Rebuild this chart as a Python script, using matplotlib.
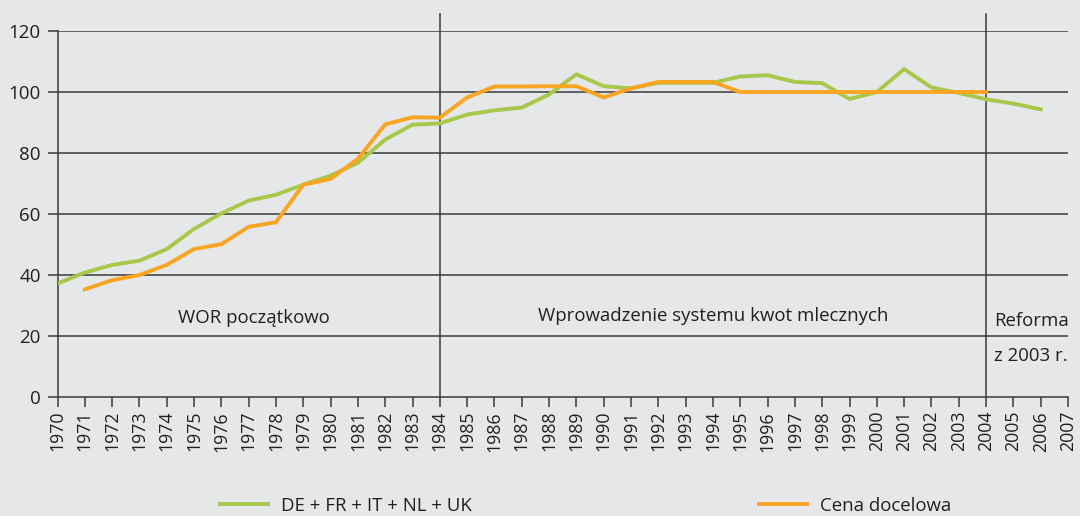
import numpy as np
import matplotlib
matplotlib.use("Agg")
import matplotlib.pyplot as plt

plt.rcParams["font.family"] = ["Open Sans", "DejaVu Sans"]

years = np.arange(1970, 2007 + 1)
green_years = np.arange(1970, 2007)
green = [37.2, 40.8, 43.3, 44.7, 48.5, 55.1, 60.2, 64.4, 66.3, 69.6,
         72.6, 76.8, 84.4, 89.3, 89.7, 92.6, 94.0, 94.9, 99.2, 105.8,
         101.9, 101.2, 103.0, 103.0, 103.0, 105.1, 105.5, 103.3, 102.9, 97.7,
         100.0, 107.5, 101.5, 99.7, 97.6, 96.2, 94.3]
orange_years = np.arange(1971, 2005)
orange = [35.3, 38.3, 40.0, 43.3, 48.5, 50.1, 55.8, 57.3, 69.6,
          71.5, 78.1, 89.4, 91.7, 91.6, 98.2, 101.8, 101.8, 101.9, 101.9,
          98.2, 101.2, 103.3, 103.3, 103.3, 100.0, 100.0, 100.0, 100.0, 100.0,
          100.0, 100.0, 100.0, 100.0, 100.0]
labels = ["DE + FR + IT + NL + UK", "Cena docelowa"]
periods = [(1994.0, 26.5, "Wprowadzenie systemu kwot mlecznych"),
           (1977.2, 26.0, "WOR początkowo")]
breaks = [1984, 2004]

bg = "#e6e7e8"
dark = "#3a3a3a"
txt = "#231f20"
c_green = "#a8c84c"
c_orange = "#f8a523"

fig = plt.figure(figsize=(10.8, 5.16), dpi=100, facecolor=bg)
ax = fig.add_axes([57.5 / 1080, 1 - 397 / 516, (1068 - 57.5) / 1080, (397 - 31) / 516])
ax.set_facecolor(bg)
ax.set_xlim(1970, 2007)
ax.set_ylim(0, 120)

for v in range(20, 121, 20):
    ax.axhline(v, color=dark, lw=1.1, zorder=1)
for b in breaks:
    ax.axvline(b, ymin=0, ymax=1.047, color=dark, lw=1.1, clip_on=False, zorder=1)

ax.plot(green_years, green, color=c_green, lw=2.8, solid_joinstyle="miter", zorder=3, label=labels[0])
ax.plot(orange_years, orange, color=c_orange, lw=2.8, solid_joinstyle="miter", zorder=4, label=labels[1])

for s in ["top", "right"]:
    ax.spines[s].set_visible(False)
ax.spines["left"].set_color(dark)
ax.spines["bottom"].set_color(dark)
ax.spines["left"].set_linewidth(1.1)
ax.spines["bottom"].set_linewidth(1.1)

ax.set_yticks(range(0, 121, 20))
ax.set_xticks(years)
ax.set_xticklabels([str(y) for y in years], rotation=90, fontsize=12.8, color=txt)
ax.tick_params(axis="x", direction="out", length=7, width=1.1, color=dark, pad=3)
ax.tick_params(axis="y", direction="out", length=7, width=1.1, color=dark, labelsize=13.5,
               labelcolor=txt, pad=5)

for x, y, t in periods:
    ax.text(x, y, t, ha="center", va="center", fontsize=13.4, color=txt)
ax.text(2004.3, 24.8, "Reforma", ha="left", va="center", fontsize=13.4, color=txt)
ax.text(2004.3, 13.4, "z 2003 r.", ha="left", va="center", fontsize=13.4, color=txt)

fig.legend(loc="lower left", bbox_to_anchor=(203 / 1080, -0.03), ncol=2, frameon=False,
           fontsize=13.4, handlelength=2.6, columnspacing=15.4, handletextpad=0.7,
           labelcolor=txt)

fig.savefig("out.png", dpi=100, facecolor=bg)
